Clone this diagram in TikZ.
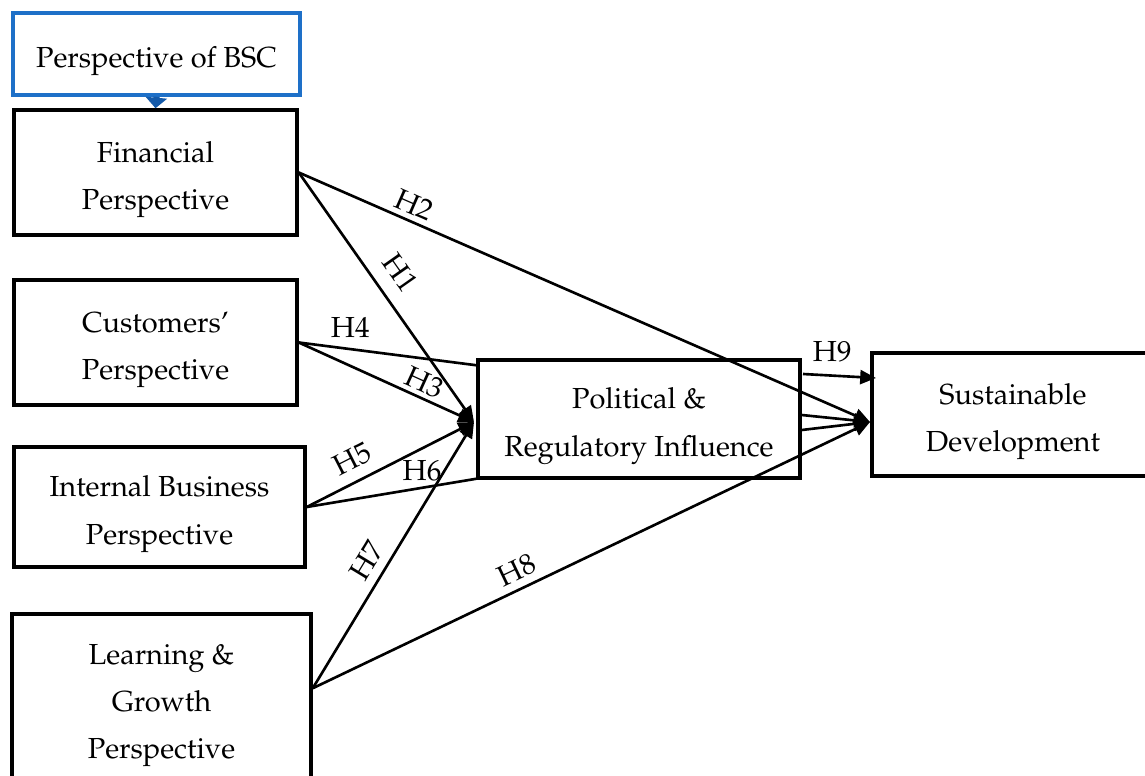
\documentclass[tikz,border=0pt]{standalone}
\usepackage[T1]{fontenc}
\renewcommand{\rmdefault}{ppl}
\usetikzlibrary{arrows.meta,calc}
\definecolor{bscblue}{RGB}{30,112,200}
\definecolor{arrblue}{RGB}{20,90,170}
\newcommand{\tst}{\rule{0pt}{20pt}}
\newcommand{\bst}{\rule[-4pt]{0pt}{4pt}}
\begin{document}
\begin{tikzpicture}[x=0.02cm,y=-0.02cm,
  font=\fontsize{16.5}{27}\selectfont,
  box/.style={draw=black,line width=2pt,align=center,inner sep=0pt,fill=white},
  conn/.style={line width=1.5pt},
  arr/.style={conn,-{Triangle[length=9pt,width=8pt]}},
  hlab/.style={inner sep=1pt,font=\fontsize{16.5}{18}\selectfont}]
\useasboundingbox (0,0) rectangle (1145,776);
\clip (0,0) rectangle (1145,776);

\coordinate (pin) at (474,422);
\coordinate (sin) at (870,422);

\node[box,draw=bscblue,minimum width=287*0.02cm,minimum height=82*0.02cm] (bsc) at (156.5,54) {\tst Perspective of BSC\bst};
\node[box,minimum width=283*0.02cm,minimum height=125*0.02cm] (fin) at (155.5,172.5) {\tst Financial\\Perspective\bst};
\node[box,minimum width=283*0.02cm,minimum height=125*0.02cm] (cus) at (155.5,342.5) {\tst Customers'\\Perspective\bst};
\node[box,minimum width=291*0.02cm,minimum height=120*0.02cm] (ibp) at (159.5,507) {\tst Internal Business\\Perspective\bst};
\node[box,minimum width=299*0.02cm,minimum height=168*0.02cm] (lgp) at (161.5,698) {\tst Learning \&\\Growth\\Perspective\bst};
\node[box,minimum width=322*0.02cm,minimum height=118*0.02cm] (pol) at (639,419) {\tst Political \&\\Regulatory Influence\bst};
\node[box,minimum width=282*0.02cm,minimum height=123*0.02cm] (sd) at (1013,414.5) {\tst Sustainable\\Development\bst};

\draw[line width=3.5pt,arrblue,-{Triangle[length=6pt,width=12pt]}] (bsc.south) -- (fin.north);

\coordinate (lgpo) at ($(lgp.north east)+(0,76)$);
\coordinate (h4end) at ($(pol.north west)+(0,7)$);
\coordinate (h6end) at ($(pol.south west)+(0,-1)$);
\coordinate (p1) at ($(pol.east)+(0,-4)$);
\coordinate (p2) at ($(pol.east)+(0,11)$);
\coordinate (h9s) at (803,374);
\coordinate (h9e) at (876,378);

% H1, H2
\draw[arr] (fin.east) -- node[hlab,pos=0.46,sloped,above=7pt]{H1} (pin);
\draw[arr] (fin.east) -- node[hlab,pos=0.19,sloped,above=2pt]{H2} (sin);
% H3, H4
\draw[arr] (cus.east) -- node[hlab,pos=0.68,sloped,above=1pt]{H3} (pin);
\draw[conn] (cus.east) -- node[hlab,pos=0.29,above=5pt]{H4} (h4end);
% H5, H6
\draw[arr] (ibp.east) -- node[hlab,pos=0.33,sloped,above=5pt]{H5} (pin);
\draw[conn] (ibp.east) -- node[hlab,pos=0.68,above=2pt]{H6} (h6end);
% H7, H8
\draw[arr] (lgpo) -- node[hlab,pos=0.44,sloped,above=4pt]{H7} (pin);
\draw[arr] (lgpo) -- node[hlab,pos=0.38,sloped,above=3pt]{H8} (sin);
% H9 and others
\draw[arr] (h9s) -- node[hlab,pos=0.4,above=6pt]{H9} (h9e);
\draw[arr] (p1) -- (sin);
\draw[arr] (p2) -- (sin);
\end{tikzpicture}
\end{document}
